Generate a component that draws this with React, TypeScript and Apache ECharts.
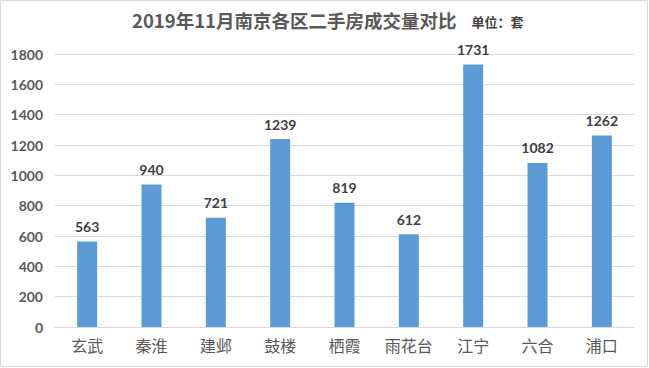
import React, { useEffect, useRef } from "react";
import * as echarts from "echarts";

const categories = ["玄武", "秦淮", "建邺", "鼓楼", "栖霞", "雨花台", "江宁", "六合", "浦口"];
const values = [563, 940, 721, 1239, 819, 612, 1731, 1082, 1262];
const titleText = "2019年11月南京各区二手房成交量对比";
const unitText = "单位：套";

export default function App() {
  const ref = useRef<HTMLDivElement>(null);
  useEffect(() => {
    const chart = echarts.init(ref.current!, null, { renderer: "svg" });
    chart.setOption({
      animation: false,
      backgroundColor: "#ffffff",
      title: {
        left: 127,
        top: 6,
        text: `{a|${titleText}}   {b|${unitText}}`,
        textStyle: {
          rich: {
            a: { fontSize: 18.5, fontWeight: "bold", color: "#595959", fontFamily: "Noto Sans CJK SC" },
            b: { fontSize: 13, fontWeight: "bold", color: "#404040", fontFamily: "Noto Sans CJK SC", padding: [3, 0, 0, 0] },
          },
        },
      },
      graphic: [
        {
          type: "rect",
          shape: { x: 0.5, y: 0.5, width: 647, height: 366 },
          style: { fill: "none", stroke: "#d9d9d9", lineWidth: 1 },
          silent: true,
        },
      ],
      grid: { left: 55, right: 15, top: 54, bottom: 41 },
      xAxis: {
        type: "category",
        data: categories,
        axisLine: { lineStyle: { color: "#d9d9d9" } },
        axisTick: { show: false },
        axisLabel: { color: "#595959", fontSize: 16, fontFamily: "Noto Sans CJK SC", margin: 10 },
      },
      yAxis: {
        type: "value",
        min: 0,
        max: 1800,
        interval: 200,
        axisLine: { show: false },
        axisTick: { show: false },
        splitLine: { lineStyle: { color: "#d9d9d9" } },
        axisLabel: {
          color: "#595959",
          fontSize: 14,
          fontWeight: "bold",
          fontFamily: "Lato",
          margin: 12,
          formatter: (v: number) => String(v),
        },
      },
      series: [
        {
          type: "bar",
          data: values,
          barWidth: 20,
          itemStyle: { color: "#5B9BD5" },
          label: {
            show: true,
            position: "top",
            distance: 8,
            color: "#404040",
            fontSize: 14,
            fontWeight: "bold",
            fontFamily: "Lato",
          },
        },
      ],
    });
    return () => chart.dispose();
  }, []);
  return <div ref={ref} style={{ position: "absolute", left: 0, top: 0, width: 649, height: 368 }} />;
}
